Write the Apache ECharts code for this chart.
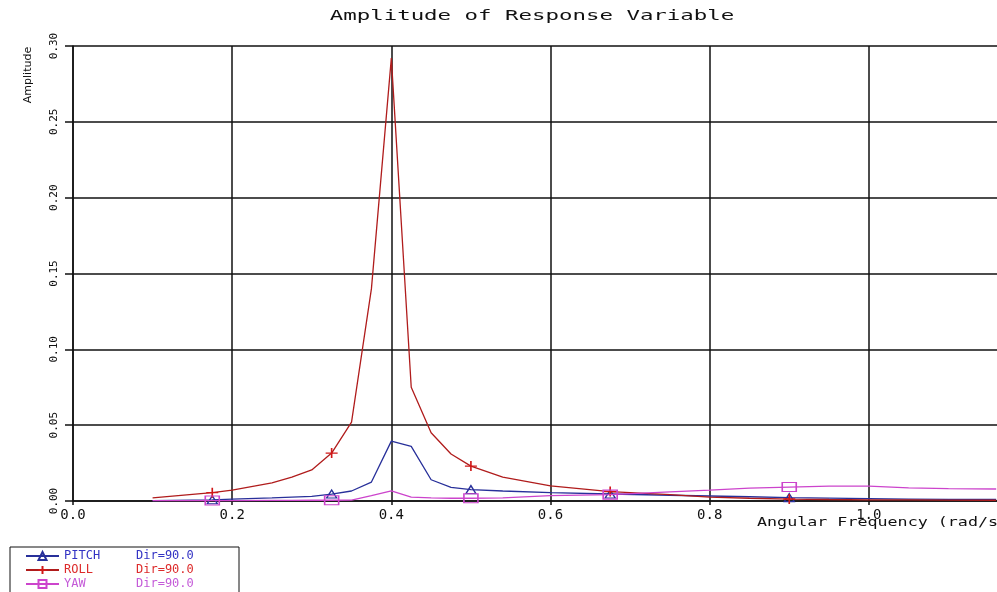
<!DOCTYPE html>
<html>
<head>
<meta charset="utf-8">
<script src="https://cdn.jsdelivr.net/npm/echarts@6/dist/echarts.min.js"></script>
<style>
  html, body { margin: 0; padding: 0; background: #fff; }
  #chart { width: 997px; height: 592px; }
</style>
</head>
<body>
<div id="chart"></div>
<script>
// angular frequency (rad/s)
const freq  = [0.10, 0.175, 0.20, 0.25, 0.275, 0.30, 0.325, 0.35, 0.375, 0.40, 0.425, 0.45, 0.475, 0.50, 0.54, 0.60, 0.675, 0.75, 0.80, 0.85, 0.90, 0.95, 1.00, 1.05, 1.10, 1.16];
const pitch = [0.0003, 0.0008, 0.0013, 0.0020, 0.0025, 0.0030, 0.0046, 0.0066, 0.0125, 0.0395, 0.0360, 0.0140, 0.0090, 0.0075, 0.0066, 0.0055, 0.0046, 0.0038, 0.0033, 0.0028, 0.0022, 0.0019, 0.0016, 0.0013, 0.0011, 0.0010];
const roll  = [0.0020, 0.0055, 0.0072, 0.0120, 0.0158, 0.0205, 0.0316, 0.0520, 0.1400, 0.2920, 0.0750, 0.0450, 0.0310, 0.0230, 0.0158, 0.0100, 0.0062, 0.0042, 0.0026, 0.0018, 0.0013, 0.0010, 0.0008, 0.0007, 0.0006, 0.0005];
const yaw   = [0.0002, 0.0003, 0.0003, 0.0004, 0.0004, 0.0005, 0.0005, 0.0006, 0.0035, 0.0066, 0.0026, 0.0020, 0.0018, 0.0018, 0.0020, 0.0035, 0.0042, 0.0060, 0.0072, 0.0085, 0.0092, 0.0098, 0.0098, 0.0087, 0.0082, 0.0079];
const markerFreq = [0.175, 0.325, 0.50, 0.675, 0.90];

const names = ['PITCH', 'ROLL', 'YAW'];
const dirText = 'Dir=90.0';

function build(values) {
    return freq.map((f, i) => markerFreq.includes(f)
        ? [f, values[i]]
        : { value: [f, values[i]], symbol: 'none' });
}

const mono = '"DejaVu Sans Mono", monospace';

const chart = echarts.init(document.getElementById('chart'), null, { renderer: 'canvas' });

chart.setOption({
    animation: false,
    backgroundColor: '#fff',
    grid: {
        left: 73,
        right: -31,
        top: 46,
        bottom: 91,
        containLabel: false,
        outerBoundsMode: 'none'
    },
    xAxis: {
        type: 'value',
        min: 0,
        max: 1.2,
        interval: 0.2,
        axisLine: { onZero: false, lineStyle: { color: '#111', width: 1.5 } },
        axisTick: { show: true, length: 4, lineStyle: { color: '#111', width: 1.5 } },
        splitLine: { show: true, lineStyle: { color: '#111', width: 1.5 } },
        axisLabel: {
            margin: 7,
            color: '#111',
            fontFamily: mono,
            fontSize: 14,
            formatter: v => v.toFixed(1)
        }
    },
    yAxis: {
        type: 'value',
        min: 0,
        max: 0.3,
        interval: 0.05,
        axisLine: { show: true, lineStyle: { color: '#111', width: 1.5 } },
        axisTick: { show: true, length: 8, lineStyle: { color: '#111', width: 1.5 } },
        splitLine: { show: true, lineStyle: { color: '#111', width: 1.5 } },
        axisLabel: {
            rotate: 90,
            margin: 13,
            color: '#111',
            fontFamily: mono,
            fontSize: 11,
            formatter: v => v.toFixed(2)
        }
    },
    legend: {
        orient: 'vertical',
        left: 10,
        top: 547,
        height: 200,
        padding: [3, 3, 8, 15],
        itemGap: 2,
        itemWidth: 33,
        itemHeight: 10,
        borderColor: '#111',
        borderWidth: 1,
        borderRadius: 0,
        backgroundColor: '#fff',
        data: [
            { name: 'PITCH', textStyle: { color: '#3333c4' } },
            { name: 'ROLL', textStyle: { color: '#dd2a2a' } },
            { name: 'YAW', textStyle: { color: '#c45ad8' } }
        ],
        formatter: name => '{n|' + name + '}{d|' + dirText + '}',
        textStyle: {
            fontFamily: mono,
            fontSize: 12,
            lineHeight: 12,
            rich: {
                n: { width: 72, fontFamily: mono, fontSize: 12 },
                d: { width: 100, fontFamily: mono, fontSize: 12 }
            }
        }
    },
    graphic: [
        {
            type: 'text',
            x: 532,
            y: 16,
            scaleX: 1.6,
            style: {
                text: 'Amplitude of Response Variable',
                font: '14px ' + mono,
                fill: '#111',
                align: 'center',
                verticalAlign: 'middle'
            }
        },
        {
            type: 'text',
            x: 757,
            y: 523,
            scaleX: 1.39,
            style: {
                text: 'Angular Frequency (rad/s)',
                font: '12px ' + mono,
                fill: '#111',
                align: 'left',
                verticalAlign: 'middle'
            }
        },
        {
            type: 'text',
            x: 28,
            y: 75,
            rotation: Math.PI / 2,
            style: {
                text: 'Amplitude',
                font: '11px "DejaVu Sans", sans-serif',
                fill: '#111',
                align: 'center',
                verticalAlign: 'middle'
            }
        }
    ],
    series: [
        {
            name: names[0],
            type: 'line',
            data: build(pitch),
            symbol: 'triangle',
            symbolSize: [10, 8],
            showAllSymbol: true,
            lineStyle: { color: '#28309a', width: 1.3 },
            itemStyle: { color: 'rgba(0,0,0,0)', borderColor: '#28309a', borderWidth: 1.3 },
            z: 3
        },
        {
            name: names[1],
            type: 'line',
            data: build(roll),
            symbol: 'path://M5,0L5,10M0,5L10,5',
            symbolSize: [12, 10],
            showAllSymbol: true,
            lineStyle: { color: '#b01c1c', width: 1.3 },
            itemStyle: { color: 'rgba(0,0,0,0)', borderColor: '#d01818', borderWidth: 1.5 },
            z: 4
        },
        {
            name: names[2],
            type: 'line',
            data: build(yaw),
            symbol: 'rect',
            symbolSize: [14, 9],
            showAllSymbol: true,
            lineStyle: { color: '#cc44cc', width: 1.3 },
            itemStyle: { color: 'rgba(0,0,0,0)', borderColor: '#cc44cc', borderWidth: 1.3 },
            z: 5
        }
    ]
});
</script>
</body>
</html>
